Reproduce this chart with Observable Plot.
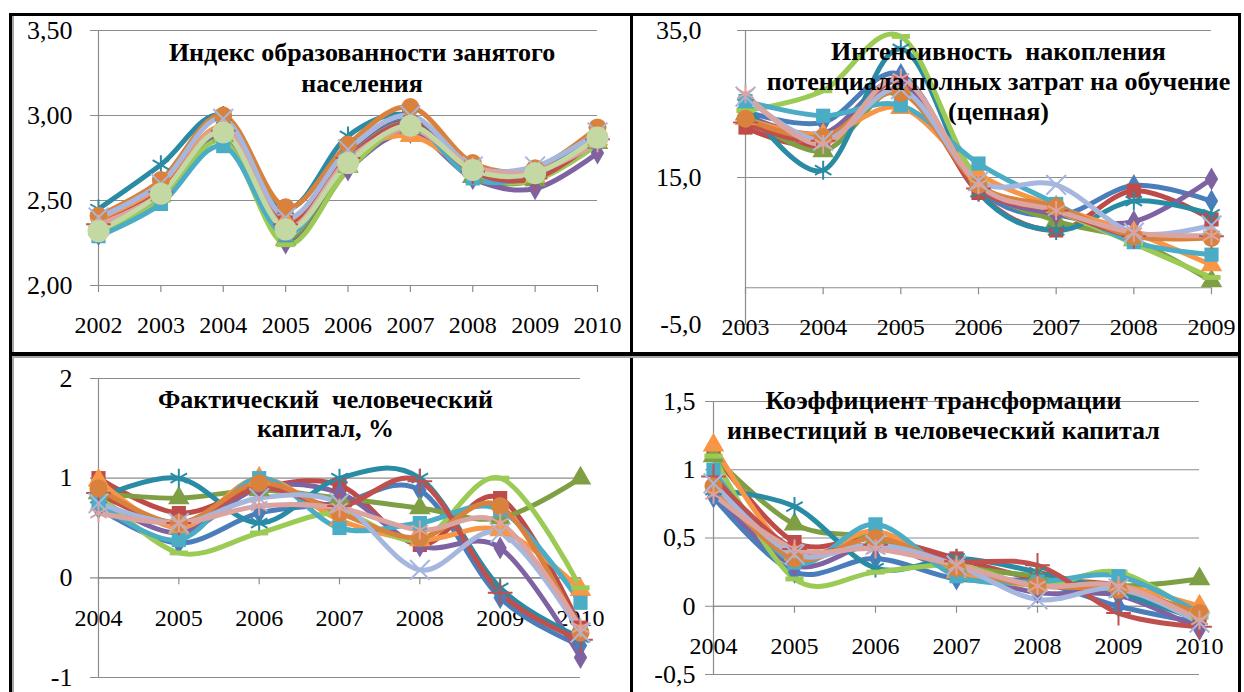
<!DOCTYPE html>
<html><head><meta charset="utf-8">
<script src="https://cdn.jsdelivr.net/npm/d3@7"></script>
<script src="https://cdn.jsdelivr.net/npm/@observablehq/plot@0.6"></script>
<style>
body{margin:0;background:#fff;}
#wrap{position:relative;width:1244px;height:692px;overflow:hidden;font-family:"Liberation Serif",serif;}
.cell{position:absolute;}
.bd{position:absolute;background:#000;}
.gb{position:absolute;background:#a6a6a6;}
</style></head><body><div id="wrap"></div>
<script>
// ---- series (drawing order) ----
const seriesNames   = ["Ряд 1","Ряд 2","Ряд 3","Ряд 4","Ряд 5","Ряд 6","Ряд 7","Ряд 8","Ряд 9","Ряд 10","Ряд 11","Ряд 12","Ряд 13"];
const seriesColors  = ["#4A7EBB","#BE4B48","#7F9F45","#7E62A1","#2A8BA5","#F79646","#9BCB55","#4BACC6","#C0504D","#D9823E","#A5B7DE","#DCA4A1","#C4D8A3"];
const seriesSymbols = ["diamond","square","triangle","diamond","asterisk","triangle","dash","square","plus","circle","times","asterisk","circle"];
const seriesSizes   = [7,8,8,7,9,8,7,8,8,9,9,9,11];

// ---- panel 1: Индекс образованности занятого населения ----
const yearsEdu = [2002,2003,2004,2005,2006,2007,2008,2009,2010];
const eduValues = [
  [2.34,2.55,2.90,2.35,2.76,2.97,2.64,2.66,2.87],
  [2.35,2.56,2.92,2.37,2.76,2.96,2.66,2.64,2.88],
  [2.33,2.53,2.88,2.27,2.70,2.93,2.64,2.62,2.84],
  [2.30,2.52,2.87,2.25,2.68,2.90,2.63,2.57,2.78],
  [2.45,2.71,3.00,2.45,2.88,3.00,2.70,2.68,2.90],
  [2.37,2.57,2.93,2.38,2.76,2.88,2.68,2.64,2.86],
  [2.30,2.50,2.85,2.24,2.68,2.93,2.65,2.62,2.83],
  [2.29,2.48,2.82,2.30,2.75,2.95,2.63,2.65,2.85],
  [2.36,2.55,2.91,2.36,2.75,2.95,2.67,2.63,2.86],
  [2.41,2.62,3.00,2.46,2.83,3.05,2.72,2.69,2.93],
  [2.40,2.60,2.98,2.40,2.80,3.00,2.70,2.70,2.90],
  [2.36,2.54,2.92,2.34,2.74,2.92,2.70,2.67,2.84],
  [2.32,2.54,2.90,2.33,2.72,2.94,2.68,2.66,2.87]
];
const eduTicks = [2.0,2.5,3.0,3.5];

// ---- panel 2: Интенсивность накопления ----
const yearsInt = [2003,2004,2005,2006,2007,2008,2009];
const intValues = [
  [24.0,22.5,29.0,13.5,9.8,13.9,11.8],
  [21.8,19.5,28.0,12.9,7.8,13.2,9.3],
  [23.6,18.6,27.0,14.0,9.1,6.5,0.9],
  [23.5,21.0,28.0,13.8,10.0,9.0,14.8],
  [25.0,16.0,32.5,13.0,7.8,11.8,10.0],
  [23.0,20.8,24.5,15.5,11.0,7.5,3.1],
  [24.1,26.8,34.2,14.5,10.5,6.0,1.4],
  [25.4,23.4,24.8,16.9,11.4,6.2,4.5],
  [22.5,20.0,27.0,13.5,10.5,7.0,7.0],
  [23.0,20.5,26.5,14.0,11.0,7.0,6.8],
  [26.0,20.0,27.0,14.5,14.0,7.5,8.5],
  [26.4,19.5,28.5,14.0,10.5,7.5,7.1],
  null
];
const intTicks = [-5,15,35];

// ---- panel 3: Фактический человеческий капитал, % ----
const yearsCap = [2004,2005,2006,2007,2008,2009,2010];
const capValues = [
  [0.70,0.35,0.65,0.75,0.88,-0.20,-0.68],
  [1.00,0.65,0.90,0.93,0.33,0.80,-0.50],
  [0.85,0.80,0.88,0.80,0.70,0.60,1.00],
  [0.80,0.45,0.90,0.85,0.32,0.30,-0.80],
  [0.80,1.00,0.55,1.00,1.00,-0.10,-0.60],
  [0.98,0.50,1.00,0.58,0.38,0.48,-0.12],
  [0.85,0.25,0.45,0.65,0.38,1.00,-0.10],
  [0.75,0.38,1.00,0.50,0.55,0.68,-0.25],
  [0.85,0.55,0.90,0.72,0.97,-0.15,-0.62],
  [0.90,0.55,0.95,0.65,0.40,0.72,-0.55],
  [0.75,0.55,0.80,0.75,0.08,0.45,-0.55],
  [0.65,0.55,0.72,0.70,0.48,0.55,-0.50],
  null
];
const capTicks = [-1,0,1,2];

// ---- panel 4: Коэффициент трансформации ----
const yearsCoef = [2004,2005,2006,2007,2008,2009,2010];
const coefValues = [
  [0.80,0.25,0.35,0.20,0.18,0.00,-0.12],
  [1.12,0.47,0.50,0.35,0.20,0.15,-0.08],
  [1.10,0.60,0.50,0.30,0.22,0.15,0.20],
  [0.85,0.30,0.45,0.25,0.10,0.08,-0.17],
  [0.85,0.73,0.28,0.35,0.25,0.10,-0.10],
  [1.18,0.38,0.55,0.25,0.15,0.15,0.00],
  [1.10,0.20,0.25,0.30,0.15,0.25,-0.08],
  [1.00,0.32,0.60,0.22,0.18,0.22,-0.05],
  [0.95,0.42,0.45,0.33,0.30,-0.05,-0.15],
  [0.88,0.35,0.50,0.28,0.15,0.12,-0.05],
  [0.90,0.38,0.45,0.30,0.05,0.13,-0.12],
  [0.82,0.42,0.42,0.30,0.15,0.15,-0.10],
  null
];
const coefTicks = [-0.5,0,0.5,1,1.5];

const titles = [
  "Индекс образованности занятого\nнаселения",
  "Интенсивность  накопления\nпотенциала полных затрат на обучение\n(цепная)",
  "Фактический  человеческий\nкапитал, %",
  "Коэффициент трансформации\nинвестиций в человеческий капитал"
];

const FONT = "Liberation Serif";
const comma = v => String(v).replace(".", ",").replace("−","-");
const panels = [
  {years: yearsEdu, values: eduValues, ticks: eduTicks, axis: 2.0, fmt: v => v.toFixed(2).replace(".", ","),
   left: 12, top: 16, width: 618, height: 336, mL: 86, mR: 33, mT: 14, mB: 67,
   title: titles[0], tdx: 14, tdy: 8, lh: 1.2, ydx: -26},
  {years: yearsInt, values: intValues, ticks: intTicks, axis: 0, fmt: v => v.toFixed(1).replace(".", ","),
   left: 633, top: 16, width: 605, height: 336, mL: 112, mR: 27, mT: 14, mB: 28,
   title: titles[1], tdx: 20, tdy: 8, lh: 1.15, ydx: -44},
  {years: yearsCap, values: capValues, ticks: capTicks, axis: 0, fmt: v => comma(v),
   left: 12, top: 357, width: 618, height: 335, mL: 86, mR: 50, mT: 21, mB: 15,
   title: titles[2], tdx: -14, tdy: 9, lh: 1.12, ydx: -26},
  {years: yearsCoef, values: coefValues, ticks: coefTicks, axis: 0, fmt: v => comma(v),
   left: 633, top: 357, width: 605, height: 335, mL: 80, mR: 39, mT: 44, mB: 18,
   title: titles[3], tdx: -13, tdy: -14, lh: 1.15, ydx: -18}
];

const dash = {draw(ctx, size){ const r = Math.sqrt(size/Math.PI); ctx.moveTo(-r*1.3,-r*0.35); ctx.lineTo(r*1.3,-r*0.35); ctx.lineTo(r*1.3,r*0.35); ctx.lineTo(-r*1.3,r*0.35); ctx.closePath(); }};
const grid = "#8c8c8c";
const wrap = document.getElementById("wrap");

panels.forEach(p => {
  const xmin = p.years[0], xmax = p.years[p.years.length-1];
  const ymin = p.ticks[0], ymax = p.ticks[p.ticks.length-1];
  const marks = [
    Plot.ruleY(p.ticks, {y: d => d, stroke: grid, strokeWidth: 1.2, insetLeft: -8}),
    Plot.ruleY([p.axis], {y: d => d, stroke: grid, strokeWidth: 1.2}),
    Plot.ruleX([xmin], {x: d => d, stroke: grid, strokeWidth: 1.2}),
    Plot.ruleX(p.years, {x: d => d, y1: () => p.axis, y2: () => p.axis, insetBottom: -7, stroke: grid, strokeWidth: 1.2}),
    Plot.text(p.ticks, {x: () => xmin, y: d => d, text: d => p.fmt(d), textAnchor: "end", dx: p.ydx, fontSize: 26, fontFamily: FONT, fill: "#000"}),
    Plot.text(p.years, {x: d => d, y: () => p.axis, text: d => String(d), dy: 40, fontSize: 24, fontFamily: FONT, fill: "#000"})
  ];
  p.values.forEach((vals, s) => {
    if (!vals) return;
    marks.push(Plot.line(p.years, {x: d => d, y: (d, j) => vals[j], stroke: seriesColors[s], strokeWidth: 5, curve: "cardinal", tension: 0}));
  });
  p.values.forEach((vals, s) => {
    if (!vals) return;
    const sym = seriesSymbols[s];
    const strokeSym = sym === "asterisk" || sym === "times" || sym === "plus";
    const opts = {x: d => d, y: (d, j) => vals[j], r: seriesSizes[s], symbol: sym === "dash" ? dash : sym};
    if (strokeSym) { opts.stroke = seriesColors[s]; opts.strokeWidth = 2; opts.fill = "none"; }
    else { opts.fill = seriesColors[s]; opts.stroke = "none"; }
    marks.push(Plot.dot(p.years, opts));
  });
  marks.push(Plot.text([p.title], {frameAnchor: "top", lineAnchor: "top", dx: p.tdx, dy: p.tdy, fontWeight: "bold", fontSize: 26, fontFamily: FONT, lineHeight: p.lh, fill: "#000"}));
  const chart = Plot.plot({
    width: p.width, height: p.height,
    marginLeft: p.mL, marginRight: p.mR, marginTop: p.mT, marginBottom: p.mB,
    x: {domain: [xmin, xmax], axis: null},
    y: {domain: [ymin, ymax], axis: null},
    style: {fontFamily: FONT, fontSize: "24px", background: "transparent", overflow: "visible"},
    marks
  });
  const cell = document.createElement("div");
  cell.className = "cell";
  cell.style.left = p.left + "px"; cell.style.top = p.top + "px";
  cell.appendChild(chart);
  wrap.appendChild(cell);
});

// table borders
function box(cls, l, t, w, h){ const d = document.createElement("div"); d.className = cls; d.style.left=l+"px"; d.style.top=t+"px"; d.style.width=w+"px"; d.style.height=h+"px"; wrap.appendChild(d); }
box("bd", 9, 13, 1232, 3);      // top
box("bd", 9, 13, 3, 680);       // left
box("gb", 12, 16, 2, 676);
box("bd", 1238, 13, 3, 680);    // right
box("bd", 630, 13, 3, 680);     // middle vertical
box("bd", 9, 352, 1232, 4);     // middle horizontal
box("gb", 12, 356, 1226, 2);
</script></body></html>
